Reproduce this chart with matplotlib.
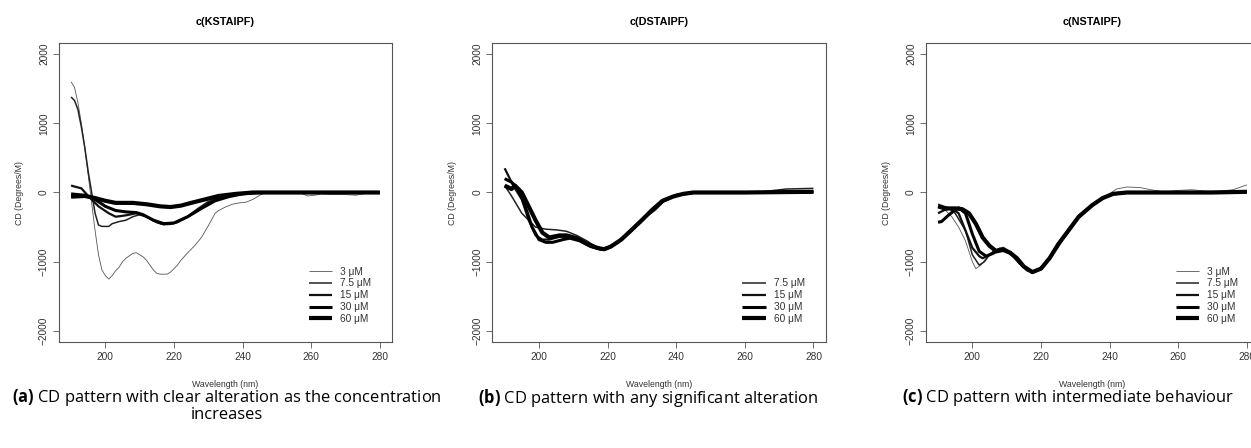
import numpy as np
import matplotlib.pyplot as plt

# panel a: c(KSTAIPF)
a_labels = ["3 \u03bcM", "7.5 \u03bcM", "15 \u03bcM", "30 \u03bcM", "60 \u03bcM"]
a_x3 = [190, 191, 192, 193, 194, 195, 196, 197, 198, 199, 200, 201, 202, 203, 204, 205, 206, 208, 209, 210,
        211, 212, 213, 214, 215, 216, 218, 219, 220, 221, 222, 224, 226, 228, 230, 232, 233, 235, 237, 239,
        241, 243, 245, 247, 250, 255, 257, 259, 261, 263, 266, 270, 273, 276, 280]
a_y3 = [1600, 1520, 1300, 1000, 650, 250, -150, -550, -900, -1120, -1200, -1250, -1200, -1130, -1080, -1000,
        -950, -880, -870, -900, -930, -980, -1050, -1120, -1170, -1180, -1180, -1150, -1100, -1050, -980, -870,
        -770, -650, -480, -300, -260, -210, -170, -150, -140, -100, -40, 0, 0, 10, -10, -50, -40, -20, -30,
        -30, -40, -10, 0]
a_x7 = [190, 191, 192, 193, 194, 195, 196, 197, 198, 199, 200, 201, 202, 204, 206, 208, 210, 212, 214, 216,
        217, 219, 221, 224, 227, 230, 233, 236, 240, 245, 250, 260, 270, 280]
a_y7 = [1380, 1330, 1200, 950, 650, 300, 0, -300, -470, -490, -490, -490, -450, -420, -400, -350, -320, -350,
        -410, -450, -460, -450, -420, -340, -230, -130, -70, -40, -20, 0, 0, 0, 0, 0]
a_x15 = [190, 193, 195, 198, 201, 203, 206, 209, 212, 215, 217, 219, 221, 224, 227, 230, 233, 236, 240, 245,
         250, 260, 270, 280]
a_y15 = [100, 60, -50, -200, -300, -350, -330, -300, -350, -430, -460, -455, -430, -350, -250, -150, -90,
         -50, -20, 0, 0, 0, 0, 0]
a_x30 = [190, 194, 197, 200, 203, 206, 209, 211, 214, 217, 220, 224, 228, 232, 236, 240, 245, 250, 260,
         270, 280]
a_y30 = [-20, -40, -100, -200, -260, -280, -290, -320, -400, -450, -440, -350, -230, -120, -60, -20, 0, 0,
         0, 0, 0]
a_x60 = [190, 194, 197, 200, 203, 208, 212, 216, 219, 222, 225, 229, 233, 238, 243, 250, 260, 270, 280]
a_y60 = [-60, -50, -80, -120, -150, -150, -170, -200, -210, -190, -150, -100, -50, -20, 0, 0, 0, 0, 0]

# panel b: c(DSTAIPF)
b_labels = ["7.5 \u03bcM", "15 \u03bcM", "30 \u03bcM", "60 \u03bcM"]
b_x7 = [190, 192, 195, 199, 202, 205, 208, 211, 214, 217, 219, 221, 224, 227, 230, 234, 237, 240, 245,
        255, 265, 272, 280]
b_y7 = [100, -50, -300, -500, -530, -540, -560, -620, -700, -800, -830, -780, -680, -560, -400, -250,
        -100, -50, 0, 0, 10, 50, 60]
b_x15 = [190, 192.5, 195, 197, 199, 201, 203, 206, 209, 212, 215, 218, 220, 223, 226, 229, 232, 236, 240,
         245, 260, 280]
b_y15 = [350, 100, -100, -400, -620, -680, -680, -640, -640, -700, -780, -820, -800, -720, -590, -440,
         -300, -130, -40, 0, 0, 10]
b_x30 = [190, 192, 194, 196, 198, 200, 202, 204, 207, 209, 212, 215, 218, 220, 223, 226, 229, 232, 236,
         240, 245, 260, 280]
b_y30 = [200, 150, 50, -200, -500, -680, -720, -720, -680, -660, -700, -780, -820, -800, -720, -590,
         -440, -300, -130, -40, 0, 0, 10]
b_x60 = [190, 192, 193, 195, 197, 199, 201, 203, 206, 208, 211, 214, 217, 219, 221, 224, 227, 230, 233,
         236, 239, 242, 245, 260, 280]
b_y60 = [100, 50, 100, 0, -200, -400, -580, -650, -620, -620, -660, -740, -800, -820, -780, -680, -540,
         -400, -250, -120, -60, -20, 0, 0, 10]

# panel c: c(NSTAIPF)
c_labels = ["3 \u03bcM", "7.5 \u03bcM", "15 \u03bcM", "30 \u03bcM", "60 \u03bcM"]
c_tail_x = [220, 222.5, 225, 228, 231, 235, 238, 241, 245, 250, 260, 270, 280]
c_tail_y = [-1100, -950, -750, -550, -350, -180, -80, -20, 0, 0, 0, 0, 10]
c_x3 = [190, 192, 194, 196, 198, 200, 201, 202.5, 204, 206, 208, 210, 212, 214, 216, 217.5, 219.5, 222,
        225, 228, 232, 236, 239, 242, 245, 249, 252, 256, 260, 264, 268, 272, 276, 280]
c_y3 = [-200, -250, -350, -500, -700, -1000, -1100, -1050, -950, -850, -800, -830, -900, -1000, -1100,
        -1150, -1120, -1000, -800, -550, -300, -150, -50, 50, 80, 70, 40, 10, 30, 40, 20, 20, 40, 110]
c_x7 = [190, 193, 195, 198, 200, 202, 203.5, 205, 208, 210, 212, 214, 216, 217.5] + c_tail_x
c_y7 = [-170, -220, -300, -550, -900, -1050, -1000, -900, -820, -840, -910, -1010, -1110, -1150] + c_tail_y
c_x15 = [190, 192, 194, 196, 198, 200, 202, 203, 205, 207, 209, 211, 213, 215, 217.5] + c_tail_x
c_y15 = [-300, -250, -230, -300, -550, -800, -920, -950, -900, -830, -800, -860, -960, -1070, -1150] + c_tail_y
c_x30 = [190, 191, 193, 195, 196, 198, 200, 202, 204, 206, 208, 210, 212, 214, 216, 217.5] + c_tail_x
c_y30 = [-430, -420, -330, -250, -220, -300, -600, -850, -920, -880, -820, -840, -920, -1030, -1120,
         -1150] + c_tail_y
c_x60 = [190, 192, 195, 197, 199, 201, 203, 205, 207, 209, 211, 213, 215, 217.5] + c_tail_x
c_y60 = [-200, -230, -230, -240, -300, -450, -650, -770, -850, -830, -870, -950, -1070, -1150] + c_tail_y

# R-style linewidths (lwd 1..5)
lws = [0.6, 1.1, 1.6, 2.2, 3.0]
cols = ["#555555", "#222222", "#111111", "#000000", "#000000"]

W, H = 1251, 448
fig = plt.figure(figsize=(W / 100, H / 100), dpi=100)
plt.rcParams['font.family'] = ['Liberation Sans', 'DejaVu Sans']
plt.rcParams['mathtext.fontset'] = 'custom'
plt.rcParams['mathtext.bf'] = 'Open Sans:bold'
plt.rcParams['mathtext.rm'] = 'Open Sans'
cap_font = ["Open Sans", "DejaVu Sans"]


def panel(left, title, xs, ys, labels, lw, cl, caption, cap_x):
    ax = fig.add_axes([left / W, 1 - 342 / H, 333.5 / W, 299 / H])
    for x, y, lab, w, c in zip(xs, ys, labels, lw, cl):
        ax.plot(x, y, color=c, lw=w, label=lab, solid_capstyle="butt")
    ax.set_xlim(186.4, 283.6)
    ax.set_ylim(-2160, 2160)
    ax.set_xticks([200, 220, 240, 260, 280])
    ax.set_yticks([-2000, -1000, 0, 1000, 2000])
    ax.tick_params(direction="out", length=4, width=0.6, color="#555555",
                   labelsize=7.3, labelcolor="#333333", pad=3)
    for lab in ax.get_yticklabels():
        lab.set_rotation(90)
        lab.set_va("center")
    for s in ax.spines.values():
        s.set_color("#555555")
        s.set_linewidth(0.8)
    ax.set_title(title, fontsize=7.8, fontweight="bold", pad=13)
    ax.set_xlabel("Wavelength (nm)", fontsize=6.3, color="#333333", labelpad=13)
    ax.set_ylabel("CD (Degrees/M)", fontsize=6.3, color="#333333", labelpad=11)
    ax.legend(loc="lower right", frameon=False, fontsize=7.3, handlelength=2.3,
              handletextpad=0.8, labelspacing=0.18, bbox_to_anchor=(0.965, 0.03),
              labelcolor="#333333")
    fig.text(cap_x / W, 1 - 398 / H, caption, ha="center", va="center",
             fontsize=11.9, family=cap_font)
    return ax


panel(58.7, "c(KSTAIPF)", [a_x3, a_x7, a_x15, a_x30, a_x60], [a_y3, a_y7, a_y15, a_y30, a_y60],
      a_labels, lws, cols,
      r"$\bf{(a)}$ CD pattern with clear alteration as the concentration", 227)
fig.text(227 / W, 1 - 415 / H, "increases", ha="center", va="center", fontsize=11.9,
         family=cap_font)
panel(492.3, "c(DSTAIPF)", [b_x7, b_x15, b_x30, b_x60], [b_y7, b_y15, b_y30, b_y60],
      b_labels, lws[1:], cols[1:],
      r"$\bf{(b)}$ CD pattern with any significant alteration", 648)
panel(925.7, "c(NSTAIPF)", [c_x3, c_x7, c_x15, c_x30, c_x60], [c_y3, c_y7, c_y15, c_y30, c_y60],
      c_labels, lws, cols,
      r"$\bf{(c)}$ CD pattern with intermediate behaviour", 1068)

fig.savefig("out.png", dpi=100)
